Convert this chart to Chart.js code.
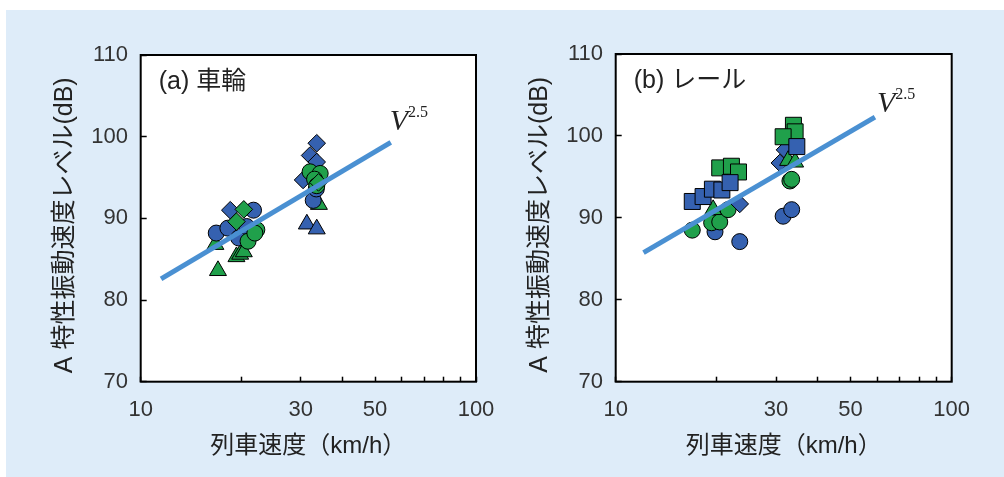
<!DOCTYPE html>
<html>
<head>
<meta charset="utf-8">
<script src="https://cdn.jsdelivr.net/npm/chart.js@4.4.1/dist/chart.umd.min.js"></script>
<style>
  body { margin: 0; width: 1004px; height: 477px; background: #fff; position: relative; overflow: hidden; }
  #bg { position: absolute; left: 6px; top: 10px; right: 0; bottom: 0; background: #deecf9; }
  canvas { position: absolute; top: 0; }
  #wheel { left: 0; }
  #rail { left: 475px; }
</style>
</head>
<body>
<div id="bg"></div>
<canvas id="wheel" width="502" height="477"></canvas>
<canvas id="rail" width="502" height="477"></canvas>
<script>
const FONT = "'Liberation Sans', 'Noto Sans CJK JP', sans-serif";
const BLUE = '#3561b0';
const GREEN = '#20a04b';
const FIT_COLOR = '#4a90d2';
const TICK_COLOR = '#333';

// axes
const xTickValues = [10, 20, 30, 40, 50, 60, 70, 80, 90, 100];
const xTicksShown = [10, 30, 50, 100];
const yMin = 70, yMax = 110, yStep = 10;
const xTitle = '列車速度（km/h）';
const yTitle = 'A 特性振動速度レベル(dB)  ';

// (a) wheel — [speed km/h, level dB]
const wheelBlueCircle = [[16.8, 88.2], [18.2, 88.8], [19.6, 87.6], [20.7, 89.0], [21.7, 91.0], [32.7, 92.2], [33.4, 93.6]];
const wheelBlueDiamond = [[18.5, 91.0], [33.5, 99.2], [32.0, 97.7], [33.5, 96.9], [30.5, 94.7]];
const wheelBlueTriangle = [[31.3, 89.3], [33.5, 88.7]];
const wheelGreenCircle = [[20.9, 87.2], [22.2, 88.6], [21.9, 88.2], [32.0, 95.7], [34.3, 95.5], [33.0, 94.8], [33.5, 94.0]];
const wheelGreenDiamond = [[20.3, 91.1], [19.3, 89.6], [33.9, 94.4]];
const wheelGreenTriangle = [[16.7, 86.8], [17.0, 83.6], [19.3, 85.3], [19.8, 85.6], [20.3, 85.9], [34.0, 91.7]];
const wheelFit = [[11.5, 82.6], [55.7, 99.3]];

// (b) rail
const railBlueCircle = [[19.75, 88.3], [23.4, 87.1], [31.5, 90.2], [33.4, 91.0]];
const railBlueSquare = [[16.9, 92.0], [18.2, 92.6], [19.4, 93.5], [20.7, 93.4], [21.9, 94.3], [34.6, 98.7]];
const railBlueDiamond = [[23.4, 91.7], [31.9, 98.3], [30.8, 96.7]];
const railGreenCircle = [[16.9, 88.5], [19.3, 89.4], [20.4, 89.5], [21.6, 91.0], [33.0, 94.5], [33.4, 94.7]];
const railGreenSquare = [[20.4, 96.1], [22.1, 96.3], [23.2, 95.6], [33.8, 101.3], [34.2, 100.5], [31.5, 99.9]];
const railGreenTriangle = [[19.5, 91.0], [32.6, 97.0], [34.2, 96.8]];
const railFit = [[12.1, 85.75], [59.1, 102.3]];

const pts = arr => arr.map(([x, y]) => ({ x, y }));

function marks(data, style, color, order) {
  const radius = { circle: 8, rectRot: 8.8, triangle: 9.8, rect: 11.3 }[style];
  return {
    data: pts(data), pointStyle: style, pointRadius: radius, pointHoverRadius: radius,
    backgroundColor: color, borderColor: '#000', borderWidth: 1, order
  };
}

// white plot area, frame, panel caption and V^2.5 label
const panelDecor = {
  id: 'panelDecor',
  beforeDraw(chart) {
    const a = chart.chartArea, ctx = chart.ctx;
    ctx.save();
    ctx.fillStyle = '#fff';
    ctx.fillRect(a.left, a.top, a.width, a.height);
    ctx.restore();
  },
  afterDraw(chart, args, o) {
    const a = chart.chartArea, ctx = chart.ctx;
    ctx.save();
    ctx.strokeStyle = '#000';
    ctx.lineWidth = 2;
    ctx.strokeRect(a.left, a.top, a.width, a.height);

    ctx.fillStyle = '#222';
    ctx.font = '25px ' + FONT;
    ctx.textBaseline = 'middle';
    ctx.fillText(o.caption, a.left + 18, a.top + 27.5);

    const end = o.fit[o.fit.length - 1];
    const px = chart.scales.x.getPixelForValue(end[0]);
    const py = chart.scales.y.getPixelForValue(end[1]);
    ctx.textBaseline = 'alphabetic';
    ctx.font = 'italic 30px "Liberation Serif", serif';
    ctx.fillText('V', px + o.dx, py + o.dy);
    const w = ctx.measureText('V').width;
    ctx.font = '16px "Liberation Serif", serif';
    ctx.fillText('2.5', px + o.dx + w, py + o.dy - 13);
    ctx.restore();
  }
};

function makePanel(id, caption, sets, fit, top, right, dx, dy) {
  const datasets = [{
    data: pts(fit), showLine: true, borderColor: FIT_COLOR, borderWidth: 5,
    pointRadius: 0, pointHoverRadius: 0, order: 0
  }].concat(sets);

  new Chart(document.getElementById(id), {
    type: 'scatter',
    data: { datasets },
    options: {
      responsive: false,
      animation: false,
      events: [],
      layout: { padding: { left: 0, top, right, bottom: 0 } },
      plugins: {
        legend: { display: false },
        tooltip: { enabled: false },
        panelDecor: { caption, fit, dx, dy }
      },
      scales: {
        x: {
          type: 'logarithmic', min: 10, max: 100, position: 'bottom',
          afterBuildTicks: s => { s.ticks = xTickValues.map(value => ({ value })); },
          afterFit: s => { s.height = 95.3; s.paddingLeft = 0; s.paddingRight = 0; },
          border: { display: false },
          grid: { drawOnChartArea: false, tickLength: -5, tickColor: '#000', tickWidth: 1.5 },
          ticks: {
            autoSkip: false, maxRotation: 0, padding: 20, color: TICK_COLOR,
            font: { family: FONT, size: 22 },
            callback: v => xTicksShown.includes(Math.round(v)) ? String(Math.round(v)) : ''
          },
          title: { display: true, text: xTitle, color: '#222', font: { family: FONT, size: 24 }, padding: { top: 0, bottom: 16 } }
        },
        y: {
          min: yMin, max: yMax, position: 'left',
          afterFit: s => { s.width = 140.7; s.paddingTop = 0; s.paddingBottom = 0; },
          border: { display: false },
          grid: { drawOnChartArea: false, tickLength: -6, tickColor: '#000', tickWidth: 1.5 },
          ticks: { stepSize: yStep, padding: 18.7, color: TICK_COLOR, font: { family: FONT, size: 22 } },
          title: { display: true, text: yTitle, color: '#222', font: { family: FONT, size: 25 }, padding: { top: 50, bottom: 0 } }
        }
      }
    },
    plugins: [panelDecor]
  });
}

makePanel('wheel', '(a) 車輪', [
  marks(wheelGreenTriangle, 'triangle', GREEN, 9),
  marks(wheelBlueTriangle, 'triangle', BLUE, 8),
  marks(wheelBlueCircle, 'circle', BLUE, 7),
  marks(wheelBlueDiamond, 'rectRot', BLUE, 6),
  marks(wheelGreenCircle, 'circle', GREEN, 5),
  marks(wheelGreenDiamond, 'rectRot', GREEN, 4)
], wheelFit, 55, 26, -1, -12);

makePanel('rail', '(b) レール', [
  marks(railBlueCircle, 'circle', BLUE, 9),
  marks(railGreenCircle, 'circle', GREEN, 8),
  marks(railBlueDiamond, 'rectRot', BLUE, 7),
  marks(railGreenTriangle, 'triangle', GREEN, 6),
  marks(railGreenSquare, 'rect', GREEN, 5),
  marks(railBlueSquare, 'rect', BLUE, 4)
], railFit, 54, 25.3, 2, -5);
</script>
</body>
</html>
